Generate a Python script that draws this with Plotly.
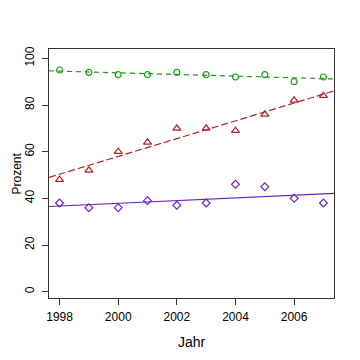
import numpy as np
import plotly.graph_objects as go

years = [1998, 1999, 2000, 2001, 2002, 2003, 2004, 2005, 2006, 2007]
green_vals = [95, 94, 93, 93, 94, 93, 92, 93, 90, 92]
red_vals = [48, 52, 60, 64, 70, 70, 69, 76, 82, 84]
purple_vals = [38, 36, 36, 39, 37, 38, 46, 45, 40, 38]
x_ticks = [1998, 2000, 2002, 2004, 2006]
y_ticks = [0, 20, 40, 60, 80, 100]

x_range = [1997.64, 2007.36]
y_range = [-2.7, 104.0]

series = [
    (green_vals, "#1c9a1c", "circle-open", "5px,4px", 6),
    (red_vals, "#b0242a", "triangle-up-open", "7px,3px", 7),
    (purple_vals, "#6a24c4", "diamond-open", "solid", 6),
]

fig = go.Figure()
for vals, color, sym, dash, msize in series:
    slope, icpt = np.polyfit(years, vals, 1)
    lx = np.array(x_range)
    fig.add_trace(go.Scatter(x=lx, y=slope * lx + icpt, mode="lines",
                             line=dict(color=color, width=1.2, dash=dash),
                             showlegend=False, hoverinfo="skip"))
    fig.add_trace(go.Scatter(x=years, y=vals, mode="markers",
                             marker=dict(symbol=sym, size=msize, color=color,
                                         line=dict(color=color, width=1.2)),
                             showlegend=False))

axis_common = dict(showgrid=False, zeroline=False, showline=True, mirror=True,
                   linecolor="#333333", linewidth=1, ticks="outside", ticklen=6,
                   tickcolor="#333333", tickfont=dict(size=12, color="black"),
                   automargin=False)

fig.update_layout(
    width=352, height=352,
    margin=dict(l=41, r=26, t=41, b=62),
    paper_bgcolor="white", plot_bgcolor="white",
    font=dict(family="Liberation Sans, Arial, sans-serif", size=12, color="black"),
    xaxis=dict(range=x_range, tickvals=x_ticks, ticklabelstandoff=2,
               title=dict(text="Jahr", standoff=13), **axis_common),
    yaxis=dict(range=y_range, tickvals=y_ticks, tickangle=-90, ticklabelstandoff=3,
               **axis_common),
    annotations=[dict(text="Prozent", textangle=-90, xref="paper", yref="paper",
                      x=0, y=0.5, xanchor="center", yanchor="middle",
                      xshift=-33, showarrow=False, font=dict(size=12, color="black"))],
)

fig.write_html("out.html")
